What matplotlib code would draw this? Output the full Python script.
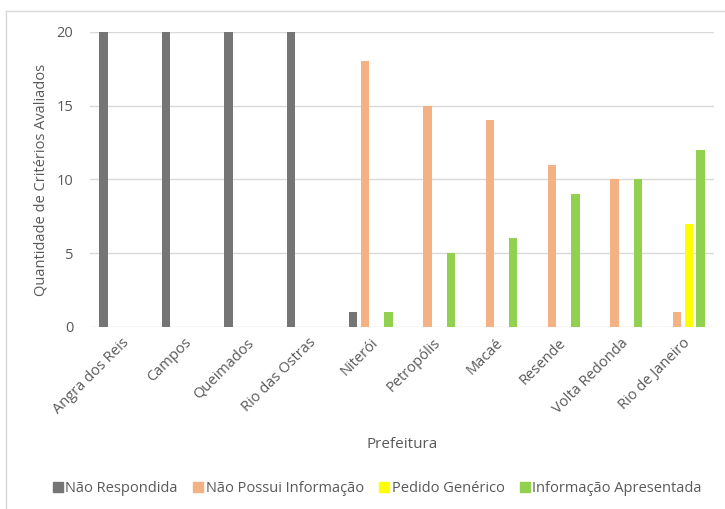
import numpy as np
import matplotlib.pyplot as plt
from matplotlib.lines import Line2D

plt.rcParams['font.family'] = ['Open Sans', 'DejaVu Sans']

# dados
prefeituras = ['Angra dos Reis', 'Campos', 'Queimados', 'Rio das Ostras', 'Niterói',
               'Petropólis', 'Macaé', 'Resende', 'Volta Redonda', 'Rio de Janeiro']
nao_respondida = [20, 20, 20, 20, 1, 0, 0, 0, 0, 0]
nao_possui = [0, 0, 0, 0, 18, 15, 14, 11, 10, 1]
pedido_generico = [0, 0, 0, 0, 0, 0, 0, 0, 0, 7]
info_apresentada = [0, 0, 0, 0, 1, 5, 6, 9, 10, 12]

series = [('Não Respondida', nao_respondida, '#757575'),
          ('Não Possui Informação', nao_possui, '#F4B183'),
          ('Pedido Genérico', pedido_generico, '#FFFF00'),
          ('Informação Apresentada', info_apresentada, '#92D050')]

txt = '#595959'
fig = plt.figure(figsize=(7.25, 5.09), dpi=100)
ax = fig.add_axes([0.124, 0.3576, 0.861, 0.5796])

x = np.arange(len(prefeituras))
step = 0.1875
for i, (nome, vals, cor) in enumerate(series):
    ax.bar(x + (i - 1.5) * step, vals, width=0.136, color=cor, label=nome, zorder=3)

ax.set_xlim(-0.5, len(prefeituras) - 0.5)
ax.set_ylim(0, 20)
ax.set_yticks([0, 5, 10, 15, 20])
ax.yaxis.grid(True, color='#D9D9D9', lw=1, zorder=0)
for s in ax.spines.values():
    s.set_visible(False)
ax.tick_params(length=0, colors=txt, labelsize=10.5)
ax.tick_params(axis='y', pad=12)
ax.tick_params(axis='x', pad=6)
ax.set_xticks(x)
ax.set_xticklabels(prefeituras, rotation=45, ha='right', rotation_mode='anchor')
ax.set_ylabel('Quantidade de Critérios Avaliados', color=txt, fontsize=10.5, labelpad=6)
ax.set_xlabel('Prefeitura', color=txt, fontsize=11, labelpad=14)

handles = [Line2D([], [], marker='s', ls='', color=c, markersize=7) for _, _, c in series]
fig.legend(handles, [n for n, _, _ in series], loc='center', bbox_to_anchor=(0.52, 0.041),
           ncol=4, frameon=False, fontsize=10.5, labelcolor=txt, handletextpad=0.1,
           columnspacing=1.0, handlelength=0.8)

# moldura do grafico
fig.add_artist(Line2D([0.0083, 1], [0.978, 0.978], transform=fig.transFigure, color='#D9D9D9', lw=1))
fig.add_artist(Line2D([0.0083, 0.0083], [0, 0.978], transform=fig.transFigure, color='#D9D9D9', lw=1))

plt.savefig('out.png')
